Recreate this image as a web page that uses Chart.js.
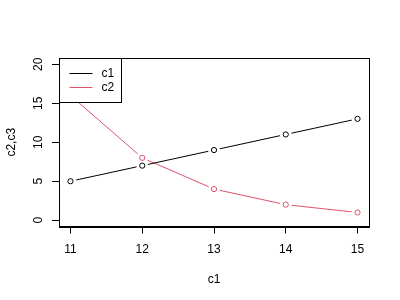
<!DOCTYPE html>
<html>
<head>
<meta charset="utf-8">
<script src="https://cdn.jsdelivr.net/npm/chart.js@4"></script>
<style>
html,body{margin:0;padding:0;background:#fff;}
canvas{display:block;}
</style>
</head>
<body>
<canvas id="c" width="400" height="300"></canvas>
<script>
const xValues = [11, 12, 13, 14, 15];
const c1Values = [5, 7, 9, 11, 13];
const c2Values = [16, 8, 4, 2, 1];
const xTicks = [11, 12, 13, 14, 15];
const yTicks = [0, 5, 10, 15, 20];
const seriesNames = ['c1', 'c2'];
const xTitle = 'c1';
const yTitle = 'c2,c3';

const RED = '#DF536B';
const FONT = '"Liberation Sans", Arial, sans-serif';

function pts(vals) { return xValues.map((x, i) => ({x: x, y: vals[i]})); }

const boxPlugin = {
  id: 'rbox',
  afterDraw(chart) {
    const ctx = chart.ctx, a = chart.chartArea;
    ctx.save();
    ctx.strokeStyle = '#000'; ctx.lineWidth = 1;
    ctx.strokeRect(Math.round(a.left) + 0.5, Math.round(a.top) + 0.5,
                   Math.round(a.right - a.left), Math.round(a.bottom - a.top));
    // legend
    const lx = Math.round(a.left) + 0.5, ly = Math.round(a.top) + 0.5;
    ctx.fillStyle = '#fff';
    ctx.fillRect(lx, ly, 62, 44);
    ctx.strokeRect(lx, ly, 62, 44);
    const cols = ['#000', RED];
    ctx.font = '12px ' + FONT;
    ctx.textBaseline = 'middle';
    ctx.textAlign = 'left';
    seriesNames.forEach((n, i) => {
      const yy = Math.round(a.top) + 15.5 + i * 14;
      ctx.strokeStyle = cols[i];
      ctx.beginPath(); ctx.moveTo(lx + 10, yy); ctx.lineTo(lx + 33, yy); ctx.stroke();
      ctx.fillStyle = '#000';
      ctx.fillText(n, lx + 42, yy);
    });
    ctx.restore();
  }
};

const bgPlugin = {
  id: 'bg',
  beforeDraw(chart) {
    const ctx = chart.ctx;
    ctx.save(); ctx.fillStyle = '#fff';
    ctx.fillRect(0, 0, chart.width, chart.height); ctx.restore();
  }
};

function lineDs(name, vals, color) {
  return {label: name, data: pts(vals), borderColor: color, borderWidth: 1,
          pointRadius: 0, fill: false, order: 3};
}
function gapDs(name, vals) {
  return {label: name + ' gap', data: pts(vals), showLine: false, pointRadius: 6,
          pointBackgroundColor: '#fff', pointBorderWidth: 0, pointBorderColor: '#fff', order: 2};
}
function ringDs(name, vals, color) {
  return {label: name + ' points', data: pts(vals), showLine: false, pointRadius: 2.6,
          pointBackgroundColor: 'rgba(0,0,0,0)', pointBorderColor: color, pointBorderWidth: 1, order: 1};
}

new Chart(document.getElementById('c'), {
  type: 'line',
  data: {
    datasets: [
      lineDs(seriesNames[0], c1Values, '#000'),
      lineDs(seriesNames[1], c2Values, RED),
      gapDs(seriesNames[0], c1Values),
      gapDs(seriesNames[1], c2Values),
      ringDs(seriesNames[0], c1Values, '#000'),
      ringDs(seriesNames[1], c2Values, RED)
    ]
  },
  options: {
    responsive: false,
    animation: false,
    events: [],
    layout: {padding: {top: 58, right: 31, left: 0, bottom: 0}},
    plugins: {legend: {display: false}, tooltip: {enabled: false}},
    scales: {
      x: {
        type: 'linear', min: 10.84, max: 15.16,
        afterBuildTicks(s) { s.ticks = xTicks.map(v => ({value: v})); },
        afterFit(s) { s.height = 73.5; },
        grid: {drawOnChartArea: false, drawTicks: true, tickLength: 7, color: '#000'},
        border: {display: true, color: '#000'},
        ticks: {color: '#000', font: {family: FONT, size: 12}, padding: 9, maxRotation: 0, autoSkip: false},
        title: {display: true, text: xTitle, color: '#000', font: {family: FONT, size: 12}, padding: {top: 0, bottom: 13}}
      },
      y: {
        type: 'linear', min: -0.8, max: 20.8,
        afterBuildTicks(s) { s.ticks = yTicks.map(v => ({value: v})); },
        afterFit(s) { s.width = 59; },
        grid: {drawOnChartArea: false, drawTicks: true, tickLength: 7, color: '#000'},
        border: {display: true, color: '#000'},
        ticks: {color: '#000', font: {family: FONT, size: 12}, padding: 7, minRotation: 90, maxRotation: 90, crossAlign: 'center', autoSkip: false},
        title: {display: true, text: yTitle, color: '#000', font: {family: FONT, size: 12}, padding: {top: 4, bottom: 0}}
      }
    }
  },
  plugins: [bgPlugin, boxPlugin]
});
</script>
</body>
</html>
